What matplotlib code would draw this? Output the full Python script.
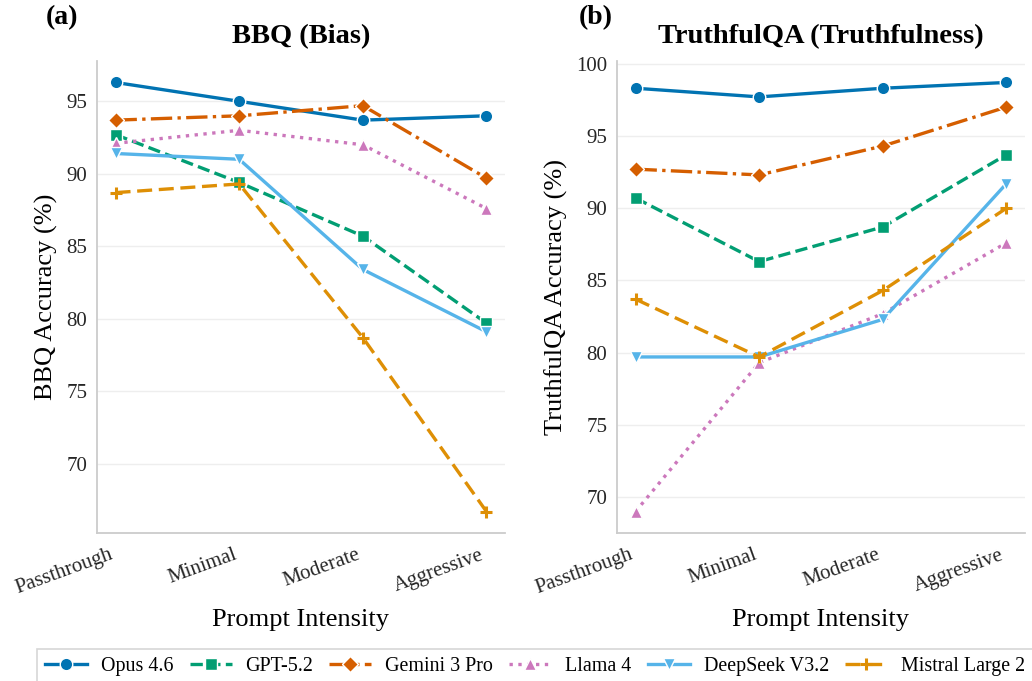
import numpy as np
import matplotlib
matplotlib.use('Agg')
import matplotlib.pyplot as plt

plt.rcParams['font.family'] = ['Liberation Serif', 'DejaVu Serif']

# data
intensity = ['Passthrough', 'Minimal', 'Moderate', 'Aggressive']
models = ['Opus 4.6', 'GPT-5.2', 'Gemini 3 Pro', 'Llama 4', 'DeepSeek V3.2', 'Mistral Large 2']

bbq_opus = [96.3, 95.0, 93.7, 94.0]
bbq_gpt = [92.7, 89.4, 85.7, 79.7]
bbq_gemini = [93.7, 94.0, 94.7, 89.7]
bbq_llama = [92.1, 93.0, 92.0, 87.6]
bbq_deepseek = [91.4, 91.0, 83.4, 79.1]
bbq_mistral = [88.7, 89.3, 78.7, 66.7]

tqa_opus = [98.3, 97.7, 98.3, 98.7]
tqa_gpt = [90.7, 86.3, 88.7, 93.7]
tqa_gemini = [92.7, 92.3, 94.3, 97.0]
tqa_llama = [69.0, 79.3, 82.7, 87.6]
tqa_deepseek = [79.7, 79.7, 82.3, 91.7]
tqa_mistral = [83.7, 79.7, 84.3, 90.0]

bbq = [bbq_opus, bbq_gpt, bbq_gemini, bbq_llama, bbq_deepseek, bbq_mistral]
tqa = [tqa_opus, tqa_gpt, tqa_gemini, tqa_llama, tqa_deepseek, tqa_mistral]

colors = ['#0173B2', '#029E73', '#D55E00', '#CC78BC', '#56B4E9', '#DE8F05']
markers = ['o', 's', 'D', '^', 'v', '+']
styles = ['-', '--', '-.', ':', '-', '--']

W, H = 1032, 681
fig = plt.figure(figsize=(W / 100, H / 100), dpi=100)
ax1 = fig.add_axes([97 / W, 1 - 533 / H, 408 / W, 472 / H])
ax2 = fig.add_axes([617 / W, 1 - 533 / H, 408 / W, 472 / H])

x = np.arange(len(intensity))


def draw(ax, series, title, ylabel):
    for i, vals in enumerate(series):
        if markers[i] == '+':
            ax.plot(x, vals, color=colors[i], ls=styles[i], lw=2.4,
                    marker='+', ms=9, mew=2.2, label=models[i],
                    dashes=(4.5, 2.0))
        else:
            ax.plot(x, vals, color=colors[i], ls=styles[i], lw=2.4,
                    marker=markers[i], ms=9 if markers[i] != 'D' else 8,
                    mec='white', mew=1.0, label=models[i])
    ax.set_xticks(x)
    ax.set_xticklabels(intensity, rotation=20, ha='right', fontsize=15)
    ax.tick_params(axis='both', length=0, pad=7, labelsize=15, colors='#262626')
    ax.tick_params(axis='x', pad=9)
    ax.set_xlabel('Prompt Intensity', fontsize=19, labelpad=8)
    ax.set_ylabel(ylabel, fontsize=19, labelpad=6)
    ax.set_title(title, fontsize=20.5, fontweight='bold', pad=13)
    ax.grid(axis='y', color='#eeeeee', lw=1.0)
    ax.set_axisbelow(True)
    for s in ['top', 'right']:
        ax.spines[s].set_visible(False)
    for s in ['left', 'bottom']:
        ax.spines[s].set_color('#cccccc')
        ax.spines[s].set_linewidth(1.3)
    ax.set_xlim(-0.15, 3.15)


draw(ax1, bbq, 'BBQ (Bias)', 'BBQ Accuracy (%)')
draw(ax2, tqa, 'TruthfulQA (Truthfulness)', 'TruthfulQA Accuracy (%)')
ax1.set_yticks([70, 75, 80, 85, 90, 95])
ax2.set_yticks([70, 75, 80, 85, 90, 95, 100])

fig.text(46 / W, 1 - 18 / H, '(a)', fontsize=20, fontweight='bold', va='center')
fig.text(579 / W, 1 - 18 / H, '(b)', fontsize=20, fontweight='bold', va='center')

handles, labels = ax1.get_legend_handles_labels()
leg = fig.legend(handles, labels, loc='upper left', bbox_to_anchor=(37 / W, 1 - 649 / H),
                 ncol=6, fontsize=14.4, frameon=True, fancybox=False,
                 edgecolor='#cccccc', handlelength=2.1, handletextpad=0.7,
                 columnspacing=0.8, borderaxespad=0)
leg.get_frame().set_linewidth(1.2)

fig.savefig('out.png', dpi=100)
